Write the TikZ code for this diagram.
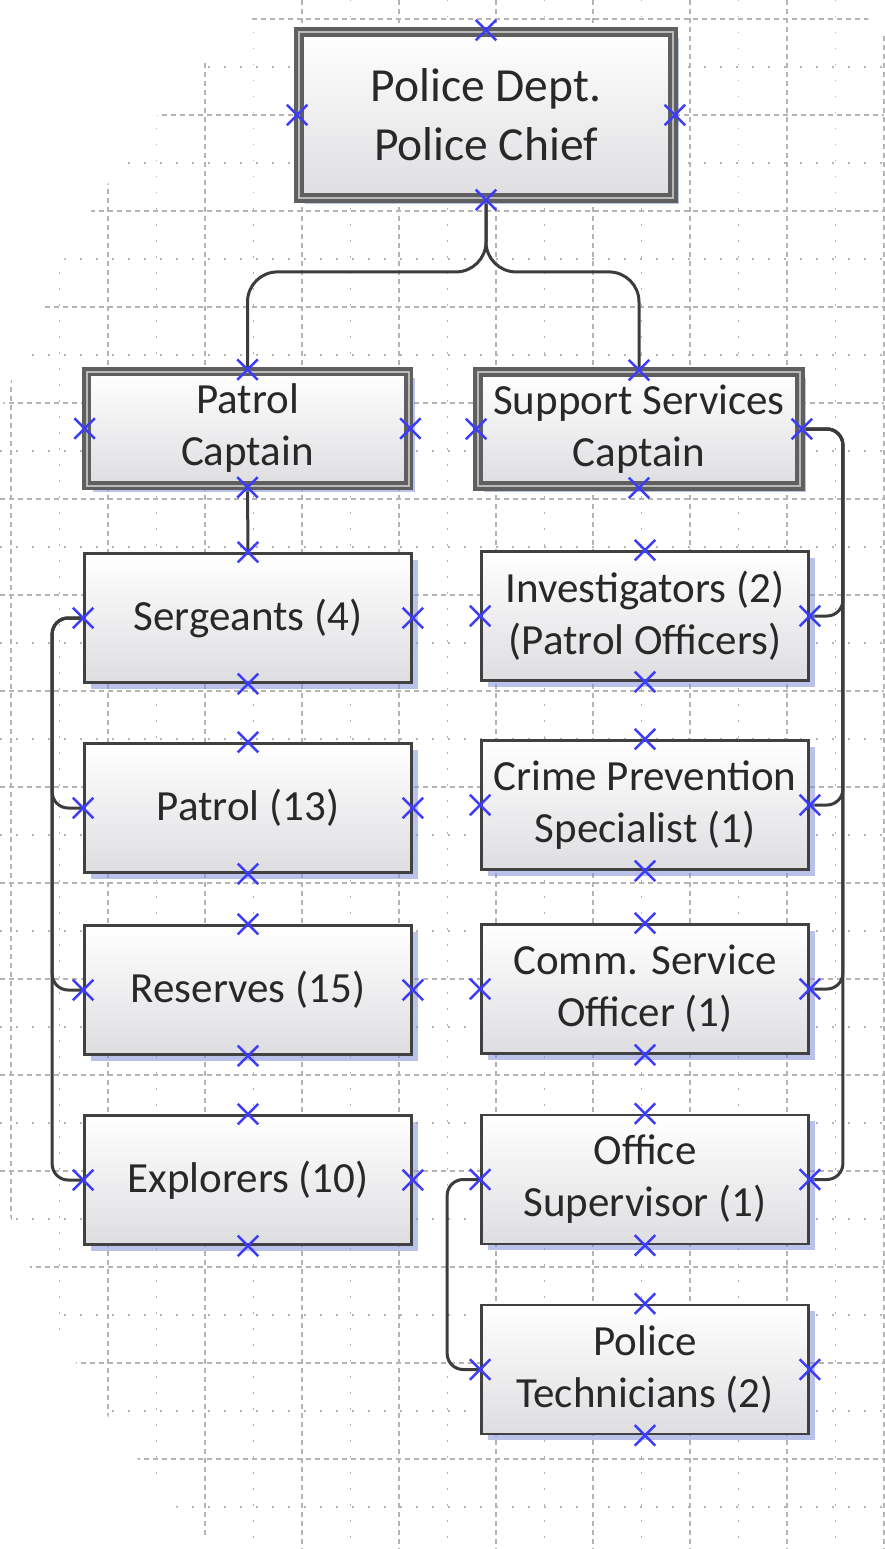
\documentclass[tikz,border=0pt]{standalone}
\usepackage{fontspec}
\setmainfont{Carlito}
\usetikzlibrary{shadows,shapes.misc}
\definecolor{boxdraw}{RGB}{65,65,65}
\definecolor{capdraw}{RGB}{95,95,95}
\definecolor{capinner}{RGB}{185,185,185}
\definecolor{shadowblue}{RGB}{130,145,215}
\definecolor{markblue}{RGB}{60,60,250}
\definecolor{conncol}{RGB}{60,60,60}
\definecolor{textcol}{RGB}{40,40,40}
\definecolor{gridcol}{RGB}{180,180,180}
\definecolor{boxbottom}{RGB}{222,222,225}
\pgfdeclarelayer{bg}
\pgfsetlayers{bg,main}
\tikzset{
 orgbox/.style={draw=boxdraw, line width=2.7pt, top color=white, bottom color=boxbottom,
   minimum width=327pt, minimum height=129pt, inner sep=0pt, align=center, text=textcol,
   font=\fontsize{43}{52}\selectfont,
   drop shadow={shadow xshift=6pt, shadow yshift=-6pt, fill=shadowblue, opacity=0.55}},
 capbox/.style={orgbox, draw=capdraw, double=capinner, line width=3.8pt, double distance=2pt,
   minimum width=322pt, minimum height=114pt},
 chiefbox/.style={capbox, minimum width=374pt, minimum height=166pt, font=\fontsize{47.5}{59}\selectfont},
 conn/.style={draw=conncol, line width=3pt},
 xmark/.style={draw=markblue, cross out, line width=2.5pt, minimum size=18pt, inner sep=0pt},
 gridmajor/.style={draw=gridcol, line width=1.3pt, dash pattern=on 5pt off 4pt},
 gridminor/.style={draw=gridcol, line width=1.3pt, dash pattern=on 1.5pt off 14.5pt},
}
\begin{document}
\begin{tikzpicture}[x=1pt,y=-1pt]
\useasboundingbox (0,0) rectangle (884,1549);
\begin{pgfonlayer}{bg}
\fill[white] (0,0) rectangle (884,1549);
\begin{scope}
\clip (560,800) ellipse [x radius=620pt, y radius=900pt];
\foreach \k in {0,...,18}{
  \pgfmathsetmacro{\gx}{11+48.5*\k}
  \ifodd\k \draw[gridminor] (\gx,0) -- (\gx,1549); \else \draw[gridmajor] (\gx,0) -- (\gx,1549); \fi
}
\foreach \k in {0,...,31}{
  \pgfmathsetmacro{\gy}{19+48*\k}
  \ifodd\k \draw[gridminor] (0,\gy) -- (884,\gy); \else \draw[gridmajor] (0,\gy) -- (884,\gy); \fi
}
\end{scope}
\end{pgfonlayer}

\node[chiefbox] (chief) at (486,115) {Police Dept.\\Police Chief};
\node[capbox] (pcap) at (247.5,428.5) {Patrol\\Captain};
\node[capbox] (scap) at (639,429) {Support Services\\Captain};
\node[orgbox] (serg) at (248,618) {Sergeants (4)};
\node[orgbox] (patrol) at (248,808) {Patrol (13)};
\node[orgbox] (res) at (248,990) {Reserves (15)};
\node[orgbox] (expl) at (248,1180) {Explorers (10)};
\node[orgbox] (inv) at (645,616) {Investigators (2)\\(Patrol Officers)};
\node[orgbox] (crime) at (645,805) {Crime Prevention\\Specialist (1)};
\node[orgbox] (comm) at (645,989) {Comm. Service\\Officer (1)};
\node[orgbox] (office) at (645,1179.5) {Office\\Supervisor (1)};
\node[orgbox] (tech) at (645,1369.5) {Police\\Technicians (2)};

\begin{pgfonlayer}{bg}
\draw[conn, rounded corners=30pt] (chief.south) -- ++(0,72) -| (pcap.north);
\draw[conn, rounded corners=30pt] (chief.south) -- ++(0,72) -| (scap.north);
\draw[conn] (pcap.south) -- (serg.north);
\draw[conn, rounded corners=16pt] (serg.west) -- ++(-31,0) |- (patrol.west);
\draw[conn, rounded corners=16pt] (serg.west) -- ++(-31,0) |- (res.west);
\draw[conn, rounded corners=16pt] (serg.west) -- ++(-31,0) |- (expl.west);
\draw[conn, rounded corners=16pt] (scap.east) -- ++(41,0) |- (inv.east);
\draw[conn, rounded corners=16pt] (scap.east) -- ++(41,0) |- (crime.east);
\draw[conn, rounded corners=16pt] (scap.east) -- ++(41,0) |- (comm.east);
\draw[conn, rounded corners=16pt] (scap.east) -- ++(41,0) |- (office.east);
\draw[conn, rounded corners=16pt] (office.west) -- ++(-33,0) |- (tech.west);
\end{pgfonlayer}

\foreach \b in {chief,pcap,scap,serg,patrol,res,expl,inv,crime,comm,office,tech}{
  \foreach \a in {north,south,east,west}{
    \node[xmark] (\b-\a-mk) at (\b.\a) {};
  }
}
\end{tikzpicture}
\end{document}
